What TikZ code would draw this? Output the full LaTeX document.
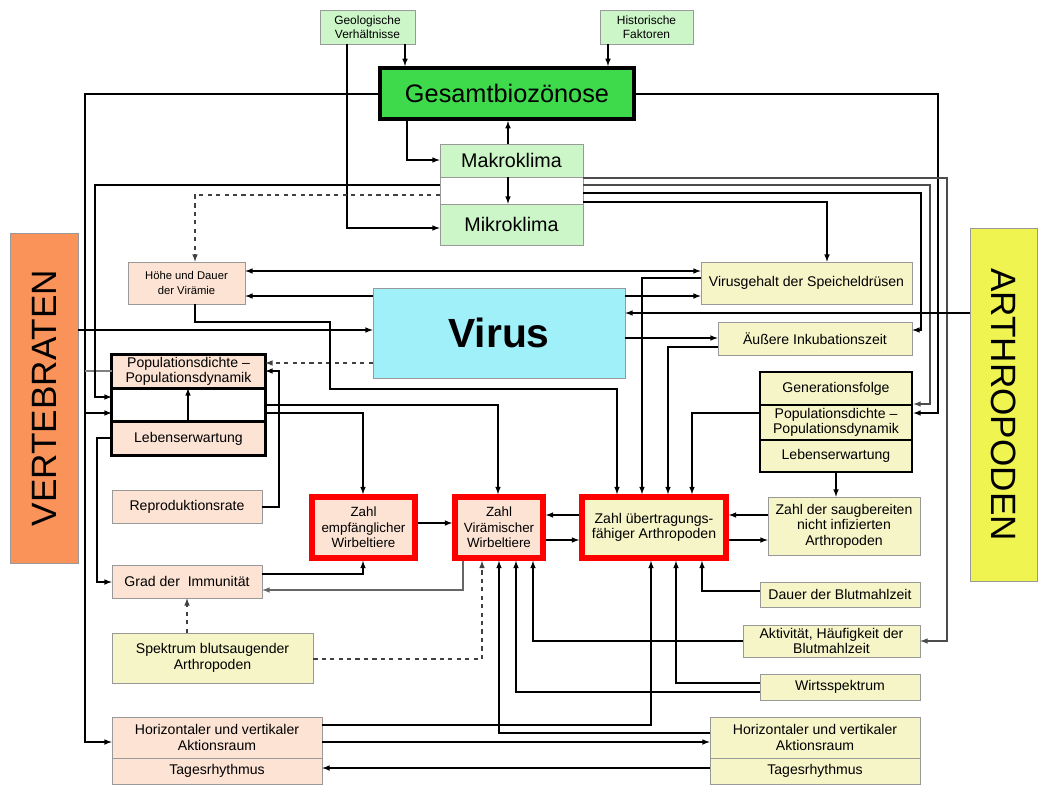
\documentclass[tikz,border=0pt]{standalone}
\usepackage{fontspec}
\setmainfont{Liberation Sans}
\usepackage{xcolor}
\usepackage{tikz}
\usetikzlibrary{calc}
\usetikzlibrary{arrows}
\usetikzlibrary{arrows.meta}
\usetikzlibrary{positioning}
\definecolor{klgreen}{RGB}{204,246,200}
\definecolor{bgreen}{RGB}{62,218,76}
\definecolor{peach}{RGB}{252,227,212}
\definecolor{pyellow}{RGB}{246,245,200}
\definecolor{vcyan}{RGB}{160,240,250}
\definecolor{vorange}{RGB}{249,147,90}
\definecolor{ayellow}{RGB}{240,244,80}
\newlength{\pu}
\setlength{\pu}{0.025cm}
\tikzset{>=latex}
\tikzstyle{base} = [rectangle, draw=gray!80, align=center, inner sep=0.5pt, font=\fontsize{10}{11}\selectfont]
\tikzstyle{gbox} = [base, fill=klgreen]
\tikzstyle{pbox} = [base, fill=peach]
\tikzstyle{ybox} = [base, fill=pyellow]
\tikzstyle{redbox} = [draw=red, line width=4pt]
\tikzstyle{con} = [->, line width=0.8pt]
\tikzstyle{dcon} = [->, line width=0.8pt, dashed, draw=black!75]

\begin{document}
\begin{tikzpicture}[x=0.025cm, y=-0.025cm]
\useasboundingbox (0,0) rectangle (1040,784);
% climate and top
\node [gbox, font=\fontsize{8.5}{10}\selectfont, minimum width=95*\pu, minimum height=34*\pu] (geo) at (367.5,27) {Geologische\\Verhältnisse};
\node [gbox, font=\fontsize{8.5}{10}\selectfont, minimum width=93*\pu, minimum height=34*\pu] (hist) at (646.5,27) {Historische\\Faktoren};
\node [base, fill=bgreen, draw=black, line width=2.8pt, font=\fontsize{18}{20}\selectfont, minimum width=254*\pu, minimum height=51*\pu] (gesamt) at (507,93.5) {Gesamtbiozönose};
\node [gbox, font=\fontsize{14}{16}\selectfont, minimum width=143*\pu, minimum height=33*\pu] (makro) at (511.5,160.5) {Makroklima};
\node [base, fill=white, minimum width=143*\pu, minimum height=27*\pu] (kmid) at (511.5,190.5) {};
\node [gbox, font=\fontsize{14}{16}\selectfont, minimum width=143*\pu, minimum height=41*\pu] (mikro) at (511.5,224.5) {Mikroklima};
% side labels
\node [base, fill=vorange, minimum width=68*\pu, minimum height=330*\pu] (vert) at (44,398) {};
\node [rotate=90, font=\fontsize{25}{28}\selectfont] (verttxt) at (vert.center) {VERTEBRATEN};
\node [base, fill=ayellow, minimum width=67*\pu, minimum height=353*\pu] (arth) at (1003.5,404.5) {};
\node [rotate=-90, font=\fontsize{25}{28}\selectfont] (arthtxt) at (arth.center) {ARTHROPODEN};
% virus row
\node [base, fill=vcyan, font=\fontsize{29}{32}\selectfont\bfseries, minimum width=252*\pu, minimum height=90*\pu] (virus) at (499,333) {Virus};
\node [pbox, font=\fontsize{8}{10}\selectfont, minimum width=117*\pu, minimum height=42*\pu] (hoehe) at (186.5,283) {Höhe und Dauer\\der Virämie};
\node [ybox, minimum width=211*\pu, minimum height=42*\pu] (vgehalt) at (806.5,283) {Virusgehalt der Speicheldrüsen};
\node [ybox, minimum width=194*\pu, minimum height=33*\pu] (inkub) at (815,338.5) {Äußere Inkubationszeit};
% vertebrate population
\node [pbox, minimum width=153*\pu, minimum height=33*\pu] (vpop) at (188.5,371.5) {Populationsdichte –\\Populationsdynamik};
\node [base, fill=white, minimum width=153*\pu, minimum height=34*\pu] (vmid) at (188.5,405) {};
\node [pbox, minimum width=153*\pu, minimum height=33*\pu] (vleben) at (188.5,438.5) {Lebenserwartung};
\draw [line width=2pt] (vpop.north west) rectangle (vleben.south east);
\draw [line width=2pt] (vpop.south west) -- (vpop.south east);
\draw [line width=2pt] (vleben.north west) -- (vleben.north east);
\node [pbox, minimum width=150*\pu, minimum height=33*\pu] (repro) at (187,506.5) {Reproduktionsrate};
% arthropod population
\node [ybox, draw=black, line width=2pt, minimum width=152*\pu, minimum height=33*\pu] (gen) at (836,388.5) {Generationsfolge};
\node [ybox, draw=black, line width=2pt, minimum width=152*\pu, minimum height=35*\pu] (apop) at (836,422.5) {Populationsdichte –\\Populationsdynamik};
\node [ybox, draw=black, line width=2pt, minimum width=152*\pu, minimum height=32*\pu] (aleben) at (836,456) {Lebenserwartung};
% central counts
\node [pbox, redbox, font=\fontsize{9.5}{11}\selectfont, minimum width=103*\pu, minimum height=61*\pu] (ze) at (363.5,527.5) {Zahl\\empfänglicher\\Wirbeltiere};
\node [pbox, redbox, font=\fontsize{9.5}{11}\selectfont, minimum width=88*\pu, minimum height=61*\pu] (zv) at (499,527.5) {Zahl\\Virämischer\\Wirbeltiere};
\node [ybox, redbox, minimum width=144*\pu, minimum height=61*\pu] (zu) at (654,527.5) {Zahl übertragungs-\\fähiger Arthropoden};
\node [ybox, minimum width=152*\pu, minimum height=58*\pu] (saug) at (844,526) {Zahl der saugbereiten\\nicht infizierten\\Arthropoden};
% lower boxes
\node [pbox, minimum width=150*\pu, minimum height=33*\pu] (grad) at (187,581.5) {Grad der~~Immunität};
\node [ybox, minimum width=201*\pu, minimum height=50*\pu] (spek) at (212.5,658) {Spektrum blutsaugender\\Arthropoden};
\node [ybox, minimum width=160*\pu, minimum height=25*\pu] (dauer) at (840,594.5) {Dauer der Blutmahlzeit};
\node [ybox, minimum width=177*\pu, minimum height=32*\pu] (aktiv) at (831.5,641) {Aktivität, Häufigkeit der\\Blutmahlzeit};
\node [ybox, minimum width=160*\pu, minimum height=26*\pu] (wirt) at (840,687) {Wirtsspektrum};
\node [pbox, minimum width=210*\pu, minimum height=41*\pu] (hv) at (217,737.5) {Horizontaler und vertikaler\\Aktionsraum};
\node [pbox, minimum width=210*\pu, minimum height=26*\pu] (tv) at (217,771) {Tagesrhythmus};
\node [ybox, minimum width=210*\pu, minimum height=41*\pu] (ha) at (815,737.5) {Horizontaler und vertikaler\\Aktionsraum};
\node [ybox, minimum width=210*\pu, minimum height=26*\pu] (ta) at (815,771) {Tagesrhythmus};
% top connectors
\draw [con] (geo.south -| 405,0) -- (gesamt.north -| 405,0);
\draw [con] (hist.south -| 608,0) -- (gesamt.north -| 608,0);
\draw [con] (geo.south -| 347,0) |- (mikro.west |- 0,228);
\draw [con] (gesamt.south -| 407,0) |- (makro.west |- 0,160);
\draw [con] (makro.north -| 508,0) -- (gesamt.south -| 508,0);
\draw [con] (makro.south -| 508,0) -- (mikro.north -| 508,0);
\draw [con] (gesamt.west |- 0,94) -- (85,94) |- (hv.west |- 0,742);
\draw [con] (85,413) -- (vmid.west |- 0,413);
\draw [line width=0.8pt, draw=gray] (85,371) -- (vpop.west |- 0,371);
\draw [con] (gesamt.east |- 0,94) -- (938,94) |- (apop.east |- 0,413);
\draw [con, draw=black!70] (kmid.east |- 0,178) -- (947,178) |- (aktiv.east |- 0,641);
\draw [con, draw=black!70] (kmid.east |- 0,185) -- (930,185) |- (gen.east |- 0,404);
\draw [con] (kmid.east |- 0,193) -- (921,193) |- (inkub.east |- 0,330);
\draw [con] (kmid.east |- 0,202) -| (vgehalt.north -| 827,0);
\draw [con] (kmid.west |- 0,185) -- (95,185) |- (vmid.west |- 0,397);
\draw [dcon] (kmid.west |- 0,195) -| (hoehe.north -| 195,0);
% virus connectors
\draw [con] (vert.east |- 0,330) -- (virus.west |- 0,330);
\draw [con] (virus.west |- 0,296) -- (hoehe.east |- 0,296);
\draw [<->, line width=0.8pt] (hoehe.east |- 0,271) -- (vgehalt.west |- 0,271);
\draw [con] (virus.east |- 0,296) -- (vgehalt.west |- 0,296);
\draw [con] (arth.west |- 0,313) -- (virus.east |- 0,313);
\draw [con] (virus.east |- 0,338) -- (inkub.west |- 0,338);
\draw [dcon] (virus.west |- 0,363) -- (vpop.east |- 0,363);
\draw [con] (hoehe.south -| 195,0) |- (330,322) |- (617,389) -- (zu.north -| 617,0);
\draw [con] (vgehalt.west |- 0,278) -| (zu.north -| 642,0);
\draw [con] (inkub.west |- 0,347) -| (zu.north -| 668,0);
\draw [con] (apop.west |- 0,413) -| (zu.north -| 692,0);
% vertebrate side
\draw [con] (vleben.west |- 0,438) -- (97,438) |- (grad.west |- 0,582);
\draw [con] (vleben.north -| 188,0) -- (vpop.south -| 188,0);
\draw [con] (vmid.east |- 0,405) -| (zv.north -| 498,0);
\draw [con] (vmid.east |- 0,413) -| (ze.north -| 363,0);
\draw [con] (repro.east |- 0,507) -- (279,507) |- (vpop.east |- 0,371);
% counts
\draw [con] (ze.east |- 0,523) -- (zv.west |- 0,523);
\draw [con] (zu.west |- 0,515) -- (zv.east |- 0,515);
\draw [con] (zv.east |- 0,540) -- (zu.west |- 0,540);
\draw [con] (zu.east |- 0,540) -- (saug.west |- 0,540);
\draw [con] (saug.west |- 0,515) -- (zu.east |- 0,515);
\draw [con] (aleben.south -| 836,0) -- (saug.north -| 836,0);
% bottom connectors
\draw [con] (grad.east |- 0,574) -| (ze.south -| 363,0);
\draw [con, draw=black!60] (zv.south -| 463,0) |- (grad.east |- 0,590);
\draw [dcon] (spek.north -| 187,0) -- (grad.south -| 187,0);
\draw [dcon] (spek.east |- 0,659) -| (zv.south -| 482,0);
\draw [con] (aktiv.west |- 0,641) -| (zv.south -| 533,0);
\draw [con] (wirt.west |- 0,692) -| (zv.south -| 516,0);
\draw [con] (ha.west |- 0,733) -| (zv.south -| 499,0);
\draw [con] (dauer.west |- 0,591) -| (zu.south -| 702,0);
\draw [con] (wirt.west |- 0,683) -| (zu.south -| 676,0);
\draw [con] (hv.east |- 0,725) -| (zu.south -| 651,0);
\draw [con] (hv.east |- 0,742) -- (ha.west |- 0,742);
\draw [con] (ta.west |- 0,768) -- (tv.east |- 0,768);
\end{tikzpicture}
\end{document}
